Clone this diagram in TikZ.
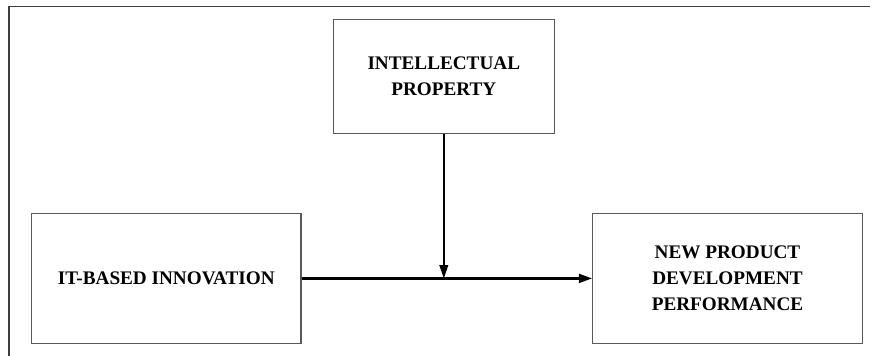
\documentclass[tikz,border=0pt]{standalone}
\usepackage{fontspec}
\setmainfont{Liberation Serif}
\usetikzlibrary{arrows.meta,positioning}
\begin{document}
\begin{tikzpicture}[x=0.75pt,y=-0.75pt,
    varbox/.style={draw=black!65,line width=0.8pt,fill=white,align=center,
      inner sep=0pt,font=\fontsize{14.4}{19.7}\selectfont\bfseries},
    path/.style={-{Triangle[length=10pt,width=6.5pt]},black}]
  \useasboundingbox (0,0) rectangle (870,356);
  % outer frame (cut on right and bottom)
  \draw[black!75,line width=1.3pt] (870,6.5) -- (8.7,6.5) -- (8.7,356);
  % variables
  \node[varbox,minimum width=165.5pt,minimum height=85.3pt] (ip) at (443.8,76.2)
    {INTELLECTUAL\\PROPERTY};
  \node[varbox,minimum width=202pt,minimum height=97pt] (itb) at (166.3,278.4)
    {IT-BASED INNOVATION};
  \node[varbox,minimum width=202pt,minimum height=97pt] (npd) at (727.5,278.4)
    {NEW PRODUCT\\DEVELOPMENT\\PERFORMANCE};
  % paths
  \coordinate (join) at (ip.south |- itb.east);
  \draw[path,line width=1.9pt] (itb.east) -- (npd.west);
  \draw[path,line width=1.3pt] (ip.south) -- (join);
\end{tikzpicture}
\end{document}
